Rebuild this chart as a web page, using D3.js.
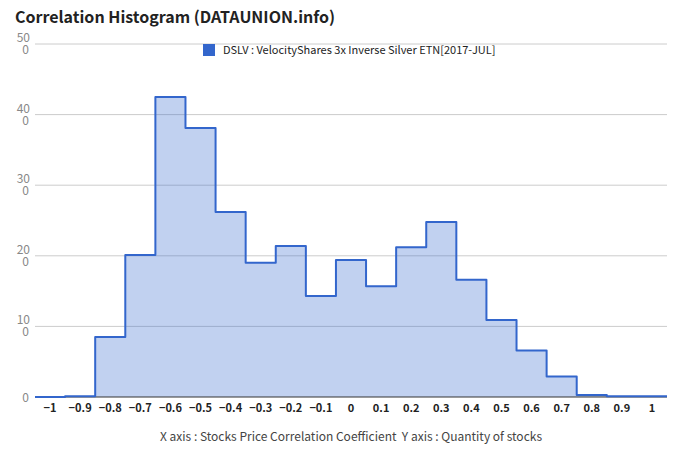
<!DOCTYPE html>
<html>
<head>
<meta charset="utf-8">
<script src="https://cdn.jsdelivr.net/npm/d3@7"></script>
<style>
  body { margin: 0; background: #fff; }
  text { font-family: "Noto Sans CJK KR", "Noto Sans", sans-serif; }
</style>
</head>
<body>
<div id="chart"></div>
<script>
"use strict";

// bin centres and counts
var bins = [-1, -0.9, -0.8, -0.7, -0.6, -0.5, -0.4, -0.3, -0.2, -0.1, 0,
  0.1, 0.2, 0.3, 0.4, 0.5, 0.6, 0.7, 0.8, 0.9, 1];
var counts = [0, 1, 85, 201, 425, 381, 262, 190, 214, 143, 194,
  157, 212, 248, 166, 109, 66, 29, 3, 1, 1];
var yTicks = [0, 100, 200, 300, 400, 500];
var seriesName = "DSLV : VelocityShares 3x Inverse Silver ETN[2017-JUL]";
var chartTitle = "Correlation Histogram (DATAUNION.info)";
var axisTitle = "X axis : Stocks Price Correlation Coefficient  Y axis : Quantity of stocks";

var width = 680,
  height = 462;

var x = d3.scaleLinear().domain([-1.05, 1.05]).range([35, 667]);
var y = d3.scaleLinear().domain([0, 500]).range([397, 44]);

var svg = d3
  .select("#chart")
  .append("svg")
  .attr("width", width)
  .attr("height", height);

// title
svg
  .append("text")
  .attr("x", 15)
  .attr("y", 23)
  .attr("font-size", 16)
  .attr("font-weight", "bold")
  .attr("fill", "#222")
  .text(chartTitle);

// gridlines
svg
  .selectAll(".grid")
  .data(yTicks.filter(d => d > 0))
  .enter()
  .append("line")
  .attr("x1", 35)
  .attr("x2", 667)
  .attr("y1", d => y(d))
  .attr("y2", d => y(d))
  .attr("stroke", "#ccc")
  .attr("stroke-width", 1);

// y labels, wrapped like the original ("50" / "0"), one text per line
yTicks.forEach(function(d) {
  var s = String(d);
  var lines = s.length > 2 ? [s.slice(0, 2), s.slice(2)] : [s];
  var base = lines.length > 1 ? [y(d) - 2, y(d) + 10] : [y(d) + 4.5];
  lines.forEach(function(l, i) {
    svg
      .append("text")
      .attr("x", i === 0 && lines.length > 1 ? 30 : 29)
      .attr("y", base[i])
      .attr("text-anchor", "end")
      .attr("font-size", 12)
      .attr("fill", "#888")
      .text(l);
  });
});

// stepped area: each bin spans centre +/- 0.05
var pts = bins.map((b, i) => [b - 0.05, counts[i]]);
pts.push([bins[bins.length - 1] + 0.05, counts[counts.length - 1]]);

var area = d3
  .area()
  .curve(d3.curveStepAfter)
  .x(d => x(d[0]))
  .y0(y(0))
  .y1(d => y(d[1]));

var line = d3
  .line()
  .curve(d3.curveStepAfter)
  .x(d => x(d[0]))
  .y(d => y(d[1]));

svg
  .append("path")
  .datum(pts)
  .attr("d", area)
  .attr("fill", "#3366cc")
  .attr("fill-opacity", 0.3);

// baseline
svg
  .append("line")
  .attr("x1", 35)
  .attr("x2", 667)
  .attr("y1", y(0))
  .attr("y2", y(0))
  .attr("stroke", "#333")
  .attr("stroke-width", 1);

svg
  .append("path")
  .datum(pts)
  .attr("d", line)
  .attr("fill", "none")
  .attr("stroke", "#3366cc")
  .attr("stroke-width", 2)
  .attr("stroke-linejoin", "round");

// x tick labels
svg
  .selectAll(".xlab")
  .data(bins)
  .enter()
  .append("text")
  .attr("x", d => x(d))
  .attr("y", 412)
  .attr("text-anchor", "middle")
  .attr("font-size", 11)
  .attr("font-weight", "bold")
  .attr("fill", "#222")
  .text(d => d3.format("~g")(d));

// legend
svg
  .append("rect")
  .attr("x", 203)
  .attr("y", 44)
  .attr("width", 12)
  .attr("height", 12)
  .attr("fill", "#3366cc");
svg
  .append("text")
  .attr("x", 223)
  .attr("y", 54)
  .attr("font-size", 11)
  .attr("fill", "#222")
  .text(seriesName);

// axis title
svg
  .append("text")
  .attr("x", 351)
  .attr("y", 441)
  .attr("text-anchor", "middle")
  .attr("font-size", 12)
  .attr("fill", "#444")
  .attr("xml:space", "preserve")
  .text(axisTitle);
</script>
</body>
</html>
